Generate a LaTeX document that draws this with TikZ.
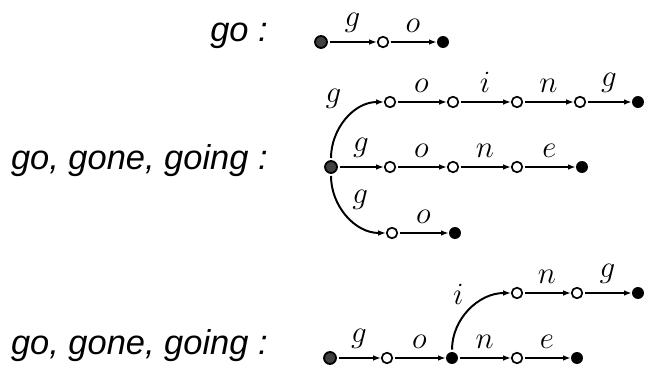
\documentclass[tikz,border=0pt]{standalone}
\usepackage{fix-cm}
\usepackage{fontspec}
\setmainfont{Liberation Sans}
\usepackage{tikz}
\usetikzlibrary{arrows.meta, positioning}

\tikzset{
  startpt/.style={circle, draw, fill=black!75, line width=1.3pt, minimum size=8.5pt, inner sep=0pt},
  opnode/.style={circle, draw, fill=white, line width=1.2pt, minimum size=7.5pt, inner sep=0pt},
  endpt/.style={circle, fill=black, minimum size=8.5pt, inner sep=0pt},
  trans/.style={-{Latex[length=5.5pt,width=4pt]}, line width=1.4pt, shorten <=1.5pt},
  word/.style={font=\fontsize{24.5}{28}\selectfont\itshape, anchor=base east, inner sep=0pt},
  lbl/.style={font=\fontsize{22}{26}\selectfont},
  elbl/.style={lbl, above=3pt}
}

\begin{document}
\begin{tikzpicture}[x=0.025cm, y=-0.025cm]
  \useasboundingbox (0,0) rectangle (648,372);

  %% go
  \node[word] (w1) at (268,42) {go :};
  \node[startpt] (s1) at (321,42) {};
  \node[opnode] (a1) at (383,42) {};
  \node[endpt] (f1) at (443,42) {};
  \draw[trans] (s1) -- node[elbl] {$g$} (a1);
  \draw[trans] (a1) -- node[elbl] {$o$} (f1);

  %% go, gone, going : three branches
  \node[word] (w2) at (268,170) {go, gone, going :};
  \node[startpt] (s2) at (331,167) {};
  % going
  \node[opnode] (t1) at (390,102) {};
  \node[opnode] (t2) at (453,102) {};
  \node[opnode] (t3) at (517,102) {};
  \node[opnode] (t4) at (580,102) {};
  \node[endpt] (tf) at (638,102) {};
  % gone
  \node[opnode] (m1) at (390,167) {};
  \node[opnode] (m2) at (453,167) {};
  \node[opnode] (m3) at (517,167) {};
  \node[endpt] (mf) at (582,167) {};
  % go
  \node[opnode] (b1) at (392,233) {};
  \node[endpt] (bf) at (455,233) {};

  \draw[trans] (s2.north) to[out=90, in=180]
    node[lbl, pos=0.55, above left=2pt] {$g$} (t1);
  \draw[trans] (t1) -- node[elbl] {$o$} (t2);
  \draw[trans] (t2) -- node[elbl] {$i$} (t3);
  \draw[trans] (t3) -- node[elbl] {$n$} (t4);
  \draw[trans] (t4) -- node[elbl] {$g$} (tf);

  \draw[trans] (s2) -- node[elbl] {$g$} (m1);
  \draw[trans] (m1) -- node[elbl] {$o$} (m2);
  \draw[trans] (m2) -- node[elbl] {$n$} (m3);
  \draw[trans] (m3) -- node[elbl] {$e$} (mf);

  \draw[trans] (s2.south) to[out=-90, in=180]
    node[lbl, pos=0.5, above right] {$g$} (b1);
  \draw[trans] (b1) -- node[elbl] {$o$} (bf);

  %% go, gone, going : shared prefix
  \node[word] (w3) at (268,354) {go, gone, going :};
  \node[startpt] (s3) at (330,358) {};
  \node[opnode] (c1) at (387,358) {};
  \node[endpt] (c2) at (452,358) {};
  \node[opnode] (c3) at (517,358) {};
  \node[endpt] (cf) at (577,358) {};
  \node[opnode] (u1) at (517,293) {};
  \node[opnode] (u2) at (577,293) {};
  \node[endpt] (uf) at (638,293) {};

  \draw[trans] (s3) -- node[elbl] {$g$} (c1);
  \draw[trans] (c1) -- node[elbl] {$o$} (c2);
  \draw[trans] (c2) -- node[elbl] {$n$} (c3);
  \draw[trans] (c3) -- node[elbl] {$e$} (cf);
  \draw[trans] (c2.north) to[out=90, in=180]
    node[lbl, pos=0.5, above left] {$i$} (u1);
  \draw[trans] (u1) -- node[elbl] {$n$} (u2);
  \draw[trans] (u2) -- node[elbl] {$g$} (uf);
\end{tikzpicture}
\end{document}
